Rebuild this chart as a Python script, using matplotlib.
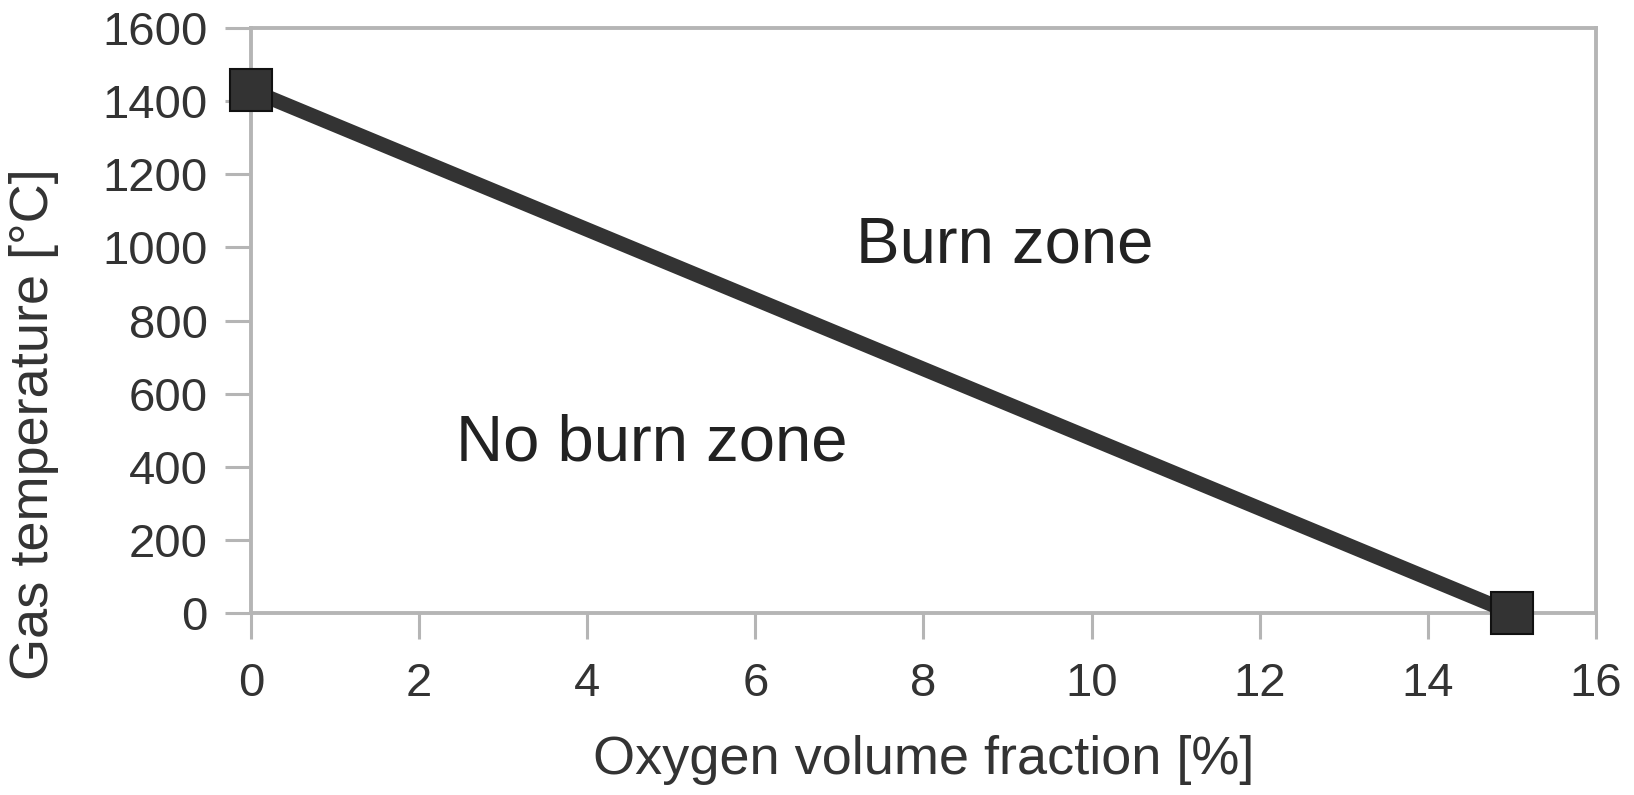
import matplotlib
matplotlib.use("Agg")
import matplotlib.pyplot as plt

# data
oxygen = [0, 15]
temperature = [1430, 0]
x_ticks = [0, 2, 4, 6, 8, 10, 12, 14, 16]
y_ticks = [0, 200, 400, 600, 800, 1000, 1200, 1400, 1600]

plt.rcParams['font.family'] = ['Liberation Sans', 'DejaVu Sans']

fig = plt.figure(figsize=(16.34, 7.95), dpi=100)
ax = fig.add_axes([0.1536, 0.2289, 0.8231, 0.7359])

ax.plot(oxygen, temperature, color='#333333', linewidth=10.5, marker='s',
        markersize=30, markerfacecolor='#333333', markeredgecolor='#111111',
        markeredgewidth=1.5, clip_on=False, zorder=3)

ax.set_xlim(0, 16)
ax.set_ylim(0, 1600)
ax.set_xticks(x_ticks)
ax.set_yticks(y_ticks)

# zone labels
ax.text(8.97, 960, "Burn zone", fontsize=47, color='#222222', ha='center', va='baseline')
ax.text(4.77, 418, "No burn zone", fontsize=47, color='#222222', ha='center', va='baseline')

ax.set_xlabel("Oxygen volume fraction [%]", fontsize=39, color='#333333', labelpad=21)
ax.set_ylabel("Gas temperature [°C]", fontsize=39, color='#333333')
ax.yaxis.set_label_coords(-0.143, 0.323)

for s in ax.spines.values():
    s.set_color('#b5b5b5')
    s.set_linewidth(2.8)

ax.tick_params(axis='both', direction='out', length=19, width=2.2, color='#b5b5b5',
               labelsize=34, labelcolor='#333333')
ax.tick_params(axis='x', pad=16)
ax.tick_params(axis='y', pad=12)

fig.savefig("out.png", dpi=100)
